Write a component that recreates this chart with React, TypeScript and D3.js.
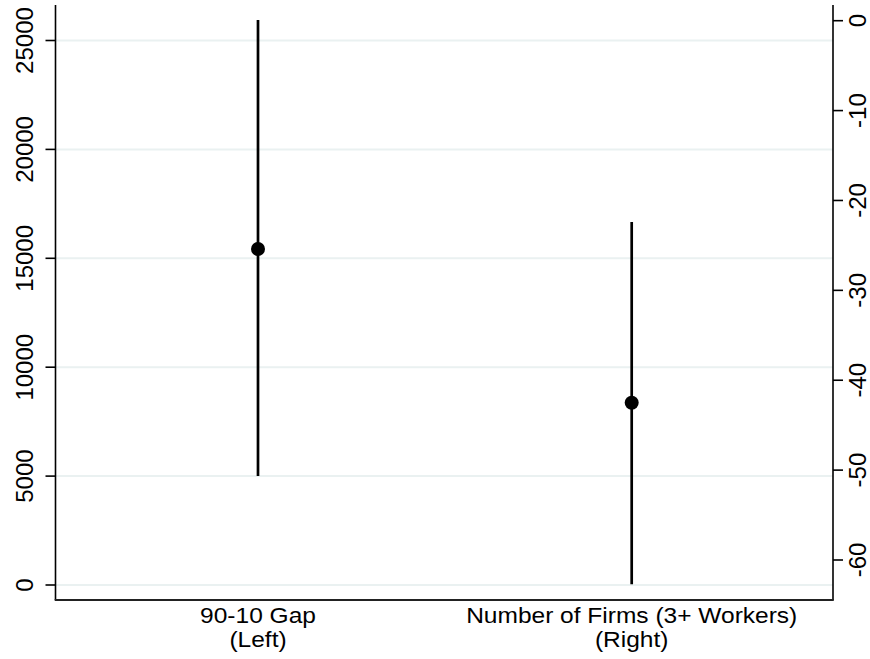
import React from "react";
import * as d3 from "d3";

const categoryLines: string[][] = [
  ["90-10 Gap", "(Left)"],
  ["Number of Firms (3+ Workers)", "(Right)"],
];
const categoryIndex = [1, 2];
const estimates = [15430, -42.5];
const lowerCI = [5000, -62.7];
const upperCI = [25940, -22.4];
const axisSide = ["left", "right"];
const leftTicks = [0, 5000, 10000, 15000, 20000, 25000];
const rightTicks = [0, -10, -20, -30, -40, -50, -60];

const W = 870;
const H = 659;
const plotLeft = 55.5;
const plotRight = 833;
const plotTop = 5;
const plotBottom = 600;
const FONT = "'Liberation Sans', Arial, Helvetica, sans-serif";
const FS_TICK = 24;
const FS_CAT = 22.5;

export default function App() {
  const x = d3.scaleLinear().domain([1, 2]).range([258, 631.7]);
  const yLeft = d3.scaleLinear().domain([0, 25000]).range([585, 40.5]);
  const yRight = d3.scaleLinear().domain([0, -60]).range([20.7, 560]);
  const yFor = (i: number) => (axisSide[i] === "left" ? yLeft : yRight);

  return (
    <svg
      width={W}
      height={H}
      style={{ position: "absolute", left: 0, top: 0, background: "#fff" }}
    >
      <rect x={0} y={0} width={W} height={H} fill="#fff" />
      {leftTicks.map((t) => (
        <line
          key={"g" + t}
          x1={plotLeft}
          x2={plotRight}
          y1={yLeft(t)}
          y2={yLeft(t)}
          stroke="#eaf1f1"
          strokeWidth={2}
        />
      ))}
      {estimates.map((e, i) => {
        const y = yFor(i);
        const cx = x(categoryIndex[i]);
        return (
          <g key={"p" + i}>
            <line
              x1={cx}
              x2={cx}
              y1={y(lowerCI[i])}
              y2={y(upperCI[i])}
              stroke="#000"
              strokeWidth={2.7}
            />
            <circle cx={cx} cy={y(e)} r={7} fill="#000" />
          </g>
        );
      })}
      <line x1={plotLeft} x2={plotLeft} y1={plotTop} y2={plotBottom} stroke="#000" strokeWidth={1.6} />
      <line x1={plotRight} x2={plotRight} y1={plotTop} y2={plotBottom} stroke="#000" strokeWidth={1.6} />
      <line x1={plotLeft - 0.8} x2={plotRight + 0.8} y1={plotBottom} y2={plotBottom} stroke="#222" strokeWidth={1.8} />
      {leftTicks.map((t) => (
        <g key={"lt" + t}>
          <line x1={plotLeft - 10} x2={plotLeft} y1={yLeft(t)} y2={yLeft(t)} stroke="#000" strokeWidth={1.6} />
          <text
            transform={`translate(${plotLeft - 22.2},${yLeft(t)}) rotate(-90)`}
            textAnchor="middle"
            fontFamily={FONT}
            fontSize={FS_TICK}
            fill="#000"
          >
            {t}
          </text>
        </g>
      ))}
      {rightTicks.map((t) => (
        <g key={"rt" + t}>
          <line x1={plotRight} x2={plotRight + 10} y1={yRight(t)} y2={yRight(t)} stroke="#000" strokeWidth={1.6} />
          <text
            transform={`translate(${plotRight + 32.5},${yRight(t)}) rotate(-90)`}
            textAnchor="middle"
            fontFamily={FONT}
            fontSize={FS_TICK}
            fill="#000"
          >
            {t}
          </text>
        </g>
      ))}
      {categoryLines.map((lines, i) => (
        <g key={"c" + i} transform={`translate(${x(categoryIndex[i])},0) scale(1.09,1)`}>
          {lines.map((l, j) => (
            <text
              key={j}
              x={0}
              y={623 + j * 24}
              textAnchor="middle"
              fontFamily={FONT}
              fontSize={FS_CAT}
              fill="#000"
            >
              {l}
            </text>
          ))}
        </g>
      ))}
    </svg>
  );
}
